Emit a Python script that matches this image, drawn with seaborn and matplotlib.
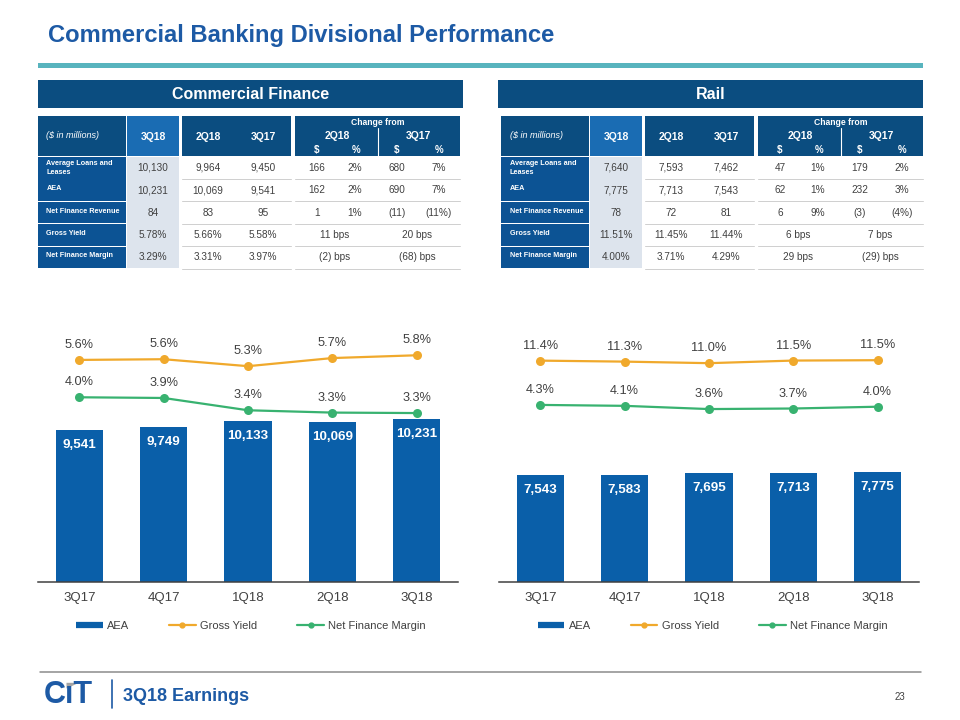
import numpy as np
import pandas as pd
import matplotlib
matplotlib.use("Agg")
import matplotlib.pyplot as plt
import seaborn as sns
from matplotlib.patches import Rectangle, Polygon
from matplotlib.lines import Line2D
from matplotlib import font_manager as fm

# ---------------- data ----------------
quarters = ["3Q17", "4Q17", "1Q18", "2Q18", "3Q18"]

cf_aea = [9541, 9749, 10133, 10069, 10231]
cf_gross_yield = [5.58, 5.61, 5.31, 5.66, 5.78]
cf_nfm = [3.97, 3.94, 3.41, 3.31, 3.29]

rail_aea = [7543, 7583, 7695, 7713, 7775]
rail_gross_yield = [11.44, 11.28, 11.03, 11.45, 11.51]
rail_nfm = [4.29, 4.14, 3.62, 3.71, 4.00]

legend_labels = ["AEA", "Gross Yield", "Net Finance Margin"]

row_labels = ["Average Loans and\nLeases", "AEA", "Net Finance Revenue",
              "Gross Yield", "Net Finance Margin"]
table_cols = ["3Q18", "2Q18", "3Q17"]

cf_3q18 = ["10,130", "10,231", "84", "5.78%", "3.29%"]
cf_2q18 = ["9,964", "10,069", "83", "5.66%", "3.31%"]
cf_3q17 = ["9,450", "9,541", "95", "5.58%", "3.97%"]
cf_chg_2q18_usd = ["166", "162", "1"]
cf_chg_2q18_pct = ["2%", "2%", "1%"]
cf_chg_3q17_usd = ["680", "690", "(11)"]
cf_chg_3q17_pct = ["7%", "7%", "(11%)"]
cf_bps_2q18 = ["11 bps", "(2) bps"]
cf_bps_3q17 = ["20 bps", "(68) bps"]

rail_3q18 = ["7,640", "7,775", "78", "11.51%", "4.00%"]
rail_2q18 = ["7,593", "7,713", "72", "11.45%", "3.71%"]
rail_3q17 = ["7,462", "7,543", "81", "11.44%", "4.29%"]
rail_chg_2q18_usd = ["47", "62", "6"]
rail_chg_2q18_pct = ["1%", "1%", "9%"]
rail_chg_3q17_usd = ["179", "232", "(3)"]
rail_chg_3q17_pct = ["2%", "3%", "(4%)"]
rail_bps_2q18 = ["6 bps", "29 bps"]
rail_bps_3q17 = ["7 bps", "(29) bps"]

# ---------------- style ----------------
sns.set_style("white")
plt.rcParams["font.family"] = ["Liberation Sans", "DejaVu Sans"]


def has_font(name):
    try:
        fm.findfont(fm.FontProperties(family=name), fallback_to_default=False)
        return True
    except Exception:
        return False


NARROW = "Liberation Sans Narrow" if has_font("Liberation Sans Narrow") else None

TITLE_BLUE = "#1d5aa5"
TEAL = "#58b4be"
HDR = "#0b4d80"
ROWLAB = "#0c5394"
CUR_HDR = "#1a6cb3"
CUR_BG = "#dde4ed"
BAR = "#0a5fa9"
GY = "#f0a92c"
NFM = "#38b270"
TXT = "#404040"

W, H = 960, 720
fig = plt.figure(figsize=(9.6, 7.2), dpi=100)
bg = fig.add_axes([0, 0, 1, 1])
bg.set_xlim(0, W)
bg.set_ylim(H, 0)
bg.axis("off")


def rect(x, y, w, h, c):
    bg.add_patch(Rectangle((x, y), w, h, facecolor=c, edgecolor="none", lw=0))


# title & header bars
bg.text(48.5, 42.3, "Commercial Banking Divisional Performance", fontsize=17.1,
        fontweight="bold", color=TITLE_BLUE, ha="left", va="baseline")
rect(38.3, 62.7, 884.4, 5, TEAL)
rect(38.3, 80, 424.7, 27.7, HDR)
rect(498, 80, 424.7, 27.7, HDR)
bg.text(250.6, 94.3, "Commercial Finance", fontsize=11.5, fontweight="bold",
        color="white", ha="center", va="center")
bg.text(710.3, 94.3, "Rail", fontsize=11.5, fontweight="bold",
        color="white", ha="center", va="center")

# ---------------- tables ----------------
TOP, HDR_H, ROW0, PITCH, ROW_H = 116, 40, 157, 22.4, 21.5
lab_kw = dict(fontsize=6.2, family=NARROW) if NARROW else dict(fontsize=5.2)


def draw_table(x0, cur, q2, q3, c2u, c2p, c3u, c3p, b2, b3):
    rect(x0, TOP, 88, HDR_H, HDR)
    rect(x0 + 89, TOP, 52, HDR_H, CUR_HDR)
    rect(x0 + 144, TOP, 109, HDR_H, HDR)
    rect(x0 + 257, TOP, 165, HDR_H, HDR)
    bg.plot([x0 + 340, x0 + 340], [128, TOP + HDR_H], color="white", lw=0.8)
    bg.text(x0 + 8.5, 135, "($ in millions)", fontsize=6.5, style="italic",
            color="white", ha="left", va="center")
    hk = dict(fontsize=7.5, fontweight="bold", color="white", ha="center", va="center")
    bg.text(x0 + 115, 136.5, table_cols[0], **hk)
    bg.text(x0 + 170, 136.5, table_cols[1], **hk)
    bg.text(x0 + 225, 136.5, table_cols[2], **hk)
    bg.text(x0 + 339.5, 122.3, "Change from", fontsize=6.2, fontweight="bold",
            color="white", ha="center", va="center")
    bg.text(x0 + 299, 136, table_cols[1], **hk)
    bg.text(x0 + 380, 136, table_cols[2], **hk)
    sk = dict(fontsize=7, fontweight="bold", color="white", ha="center", va="center")
    for xx, s in ((279, "$"), (318, "%"), (359, "$"), (401, "%")):
        bg.text(x0 + xx, 150, s, **sk)

    rect(x0 + 89, ROW0, 52, PITCH * 4 + ROW_H, CUR_BG)
    dk = dict(fontsize=7.2, color=TXT, ha="center", va="center")
    for i, lab in enumerate(row_labels):
        y = ROW0 + i * PITCH
        yc = y + ROW_H / 2
        rect(x0, y, 88, ROW_H, ROWLAB)
        bg.text(x0 + 8.5, yc - (0 if "\n" in lab else 1.5), lab, fontweight="bold",
                color="white", ha="left", va="center", linespacing=1.45, **lab_kw)
        bg.text(x0 + 115, yc, cur[i], **dk)
        bg.text(x0 + 170, yc, q2[i], **dk)
        bg.text(x0 + 225, yc, q3[i], **dk)
        if i < 3:
            bg.text(x0 + 279, yc, c2u[i], **dk)
            bg.text(x0 + 317, yc, c2p[i], **dk)
            bg.text(x0 + 359, yc, c3u[i], **dk)
            bg.text(x0 + 401, yc, c3p[i], **dk)
        else:
            bg.text(x0 + 297, yc, b2[i - 3], **dk)
            bg.text(x0 + 379, yc, b3[i - 3], **dk)
        ys = y + ROW_H + 0.5
        bg.plot([x0 + 144, x0 + 253], [ys, ys], color="#cfcfcf", lw=0.7)
        bg.plot([x0 + 257, x0 + 422], [ys, ys], color="#cfcfcf", lw=0.7)


draw_table(38, cf_3q18, cf_2q18, cf_3q17, cf_chg_2q18_usd, cf_chg_2q18_pct,
           cf_chg_3q17_usd, cf_chg_3q17_pct, cf_bps_2q18, cf_bps_3q17)
draw_table(501, rail_3q18, rail_2q18, rail_3q17, rail_chg_2q18_usd, rail_chg_2q18_pct,
           rail_chg_3q17_usd, rail_chg_3q17_pct, rail_bps_2q18, rail_bps_3q17)


# ---------------- charts ----------------
def pct(v):
    return f"{np.floor(v * 10 + 0.5 + 1e-6) / 10:.1f}%"


def draw_chart(left_px, aea, gy, nfm, bar_top, line_lim, legend_cx):
    ax = fig.add_axes([left_px / W, (H - 582) / H, 420 / W, 262 / H])
    ax.patch.set_alpha(0)
    df = pd.DataFrame({"Quarter": quarters, "AEA": aea})
    sns.barplot(data=df, x="Quarter", y="AEA", color=BAR, saturation=1,
                width=0.56, ax=ax, linewidth=0, errorbar=None)
    ax.set_ylim(0, bar_top)
    if NARROW:
        bk = dict(fontsize=11, family=NARROW)
    else:
        bk = dict(fontsize=9.6)
    for i, v in enumerate(aea):
        ax.annotate(f"{v:,}", (i, v), xytext=(0, -10.8), textcoords="offset points",
                    ha="center", va="center", color="white", fontweight="bold", **bk)
    ax2 = ax.twinx()
    x = np.arange(len(quarters))
    for vals, c in ((gy, GY), (nfm, NFM)):
        sns.lineplot(x=x, y=vals, ax=ax2, color=c, lw=1.6, marker="o",
                     markersize=6.5, markeredgewidth=0)
        for i, v in enumerate(vals):
            ax2.annotate(pct(v), (i, v), xytext=(0, 10.8), textcoords="offset points",
                         ha="center", va="center", fontsize=9.2, color=TXT)
    ax2.set_ylim(*line_lim)
    ax.set_xlim(-0.49, 4.49)
    for a in (ax, ax2):
        a.set_xlabel("")
        a.set_ylabel("")
        a.set_yticks([])
        for s in ("left", "right", "top"):
            a.spines[s].set_visible(False)
    ax2.spines["bottom"].set_visible(False)
    ax.spines["bottom"].set_color(TXT)
    ax.spines["bottom"].set_linewidth(1.1)
    ax.tick_params(axis="x", length=0, pad=7.5, labelsize=9.5, labelcolor=TXT)

    handles = [Line2D([], [], color=BAR, lw=4.5, solid_capstyle="butt"),
               Line2D([], [], color=GY, lw=1.6, marker="o", markersize=3.5),
               Line2D([], [], color=NFM, lw=1.6, marker="o", markersize=3.5)]
    fig.legend(handles, legend_labels, loc="center",
               bbox_to_anchor=(legend_cx / W, 1 - 626 / H), ncol=3, frameon=False,
               fontsize=8, handlelength=2.4, handletextpad=0.4, columnspacing=3.6,
               labelcolor=TXT)


draw_chart(38, cf_aea, cf_gross_yield, cf_nfm, 16447, (-3.99, 7.30), 251)
draw_chart(499, rail_aea, rail_gross_yield, rail_nfm, 18490, (-24.3, 18.0), 712.7)

# ---------------- footer ----------------
bg.plot([40, 920.7], [671.7, 671.7], color="#8c8c8c", lw=1.1)
bg.text(43.5, 703.3, "C\u0131T", fontsize=22, fontweight="bold", color=TITLE_BLUE,
        ha="left", va="baseline")
bg.add_patch(Polygon([(66.5, 682.8), (79, 682.8), (66.5, 688.5)], closed=True,
                     facecolor="#a5a5a5", edgecolor="none"))
bg.plot([112, 112], [680, 708], color=TITLE_BLUE, lw=1.2)
bg.text(122.7, 701, "3Q18 Earnings", fontsize=13, fontweight="bold",
        color=TITLE_BLUE, ha="left", va="baseline")
bg.text(899.5, 697.3, "23", fontsize=7, color=TXT, ha="center", va="center")

fig.savefig("out.png", dpi=100)
